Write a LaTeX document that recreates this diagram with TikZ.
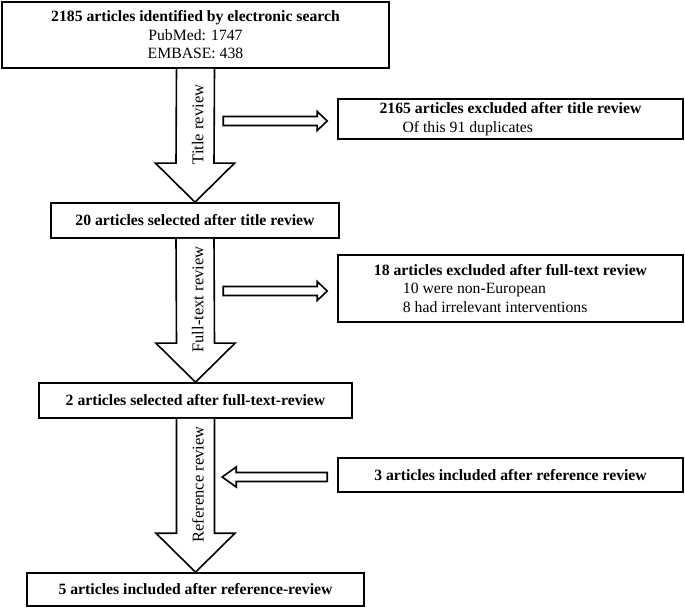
\documentclass[tikz,border=0pt]{standalone}
\usepackage{fontspec}
\setmainfont{Liberation Serif}
\usetikzlibrary{calc}
\tikzset{
  box/.style={draw,line width=1.6pt,inner sep=0pt,align=center,font=\fontsize{15.7}{18.5}\selectfont},
  sidebox/.style={box,minimum width=345pt,align=left},
  hollow/.style={draw,line width=1.6pt,fill=white,line join=miter},
  steplabel/.style={rotate=90,inner sep=0pt,font=\fontsize{16.5}{19}\selectfont},
}
\begin{document}
\begin{tikzpicture}[x=1pt,y=-1pt]
    \useasboundingbox(0,0)rectangle(685,609);
    % main column
    \node[box,minimum width=387pt,minimum height=66pt](search)at(195.5,35){\textbf{2185 articles identified by electronic search}\\PubMed: 1747\\EMBASE: 438};
    \node[box,minimum width=288pt,minimum height=35pt](title)at(195,220.5){\textbf{20 articles selected after title review}};
    \node[box,minimum width=313pt,minimum height=35pt](full)at(195.5,400.5){\textbf{2 articles selected after full-text-review}};
    \node[box,minimum width=337pt,minimum height=33pt](incl)at(195.5,589.5){\textbf{5 articles included after reference-review}};
    % side boxes
    \node[sidebox,minimum height=40pt](excl1)at(510.5,119){\textbf{2165 articles excluded after title review}\\\hspace*{23pt}Of this 91 duplicates};
    \node[sidebox,minimum height=67pt](excl2)at(510.5,288.5){\textbf{18 articles excluded after full-text review}\\\hspace*{29pt}10 were non-European\\\hspace*{29pt}8 had irrelevant interventions};
    \node[sidebox,minimum height=34pt](refs)at(510.5,475){\textbf{3 articles included after reference review}};
    % big hollow arrows
    \foreach \a/\b/\t in {search/title/Title review,title/full/Full-text review,full/incl/Reference review}{
        \draw[hollow]($(\a.south)+(-19,0)$)--($(\b.north)+(-19,-39)$)--($(\b.north)+(-39.5,-39)$)--(\b.north)
            --($(\b.north)+(39.5,-39)$)--($(\b.north)+(19,-39)$)--($(\a.south)+(19,0)$);
        \node[steplabel]at($($(\a.south)!0.5!(\b.north)$)+(2.5,-11)$){\t};
    }
    % small hollow arrows
    \coordinate(t1)at($(excl1.west)+(-114,2)$);
    \coordinate(t2)at($(excl2.west)+(-114,2.5)$);
    \coordinate(t3)at($(refs.west)+(-10,2)$);
    \foreach \t in {t1,t2}
        \draw[hollow](\t)++(0,-4.5)--++(94,0)--++(0,-5)--++(10,9.5)--++(-10,9.5)--++(0,-5)--++(-94,0)--cycle;
    \draw[hollow](t3)++(0,-4.5)--++(-91,0)--++(0,-5.5)--++(-14,10)--++(14,10)--++(0,-5.5)--++(91,0)--cycle;
\end{tikzpicture}
\end{document}
